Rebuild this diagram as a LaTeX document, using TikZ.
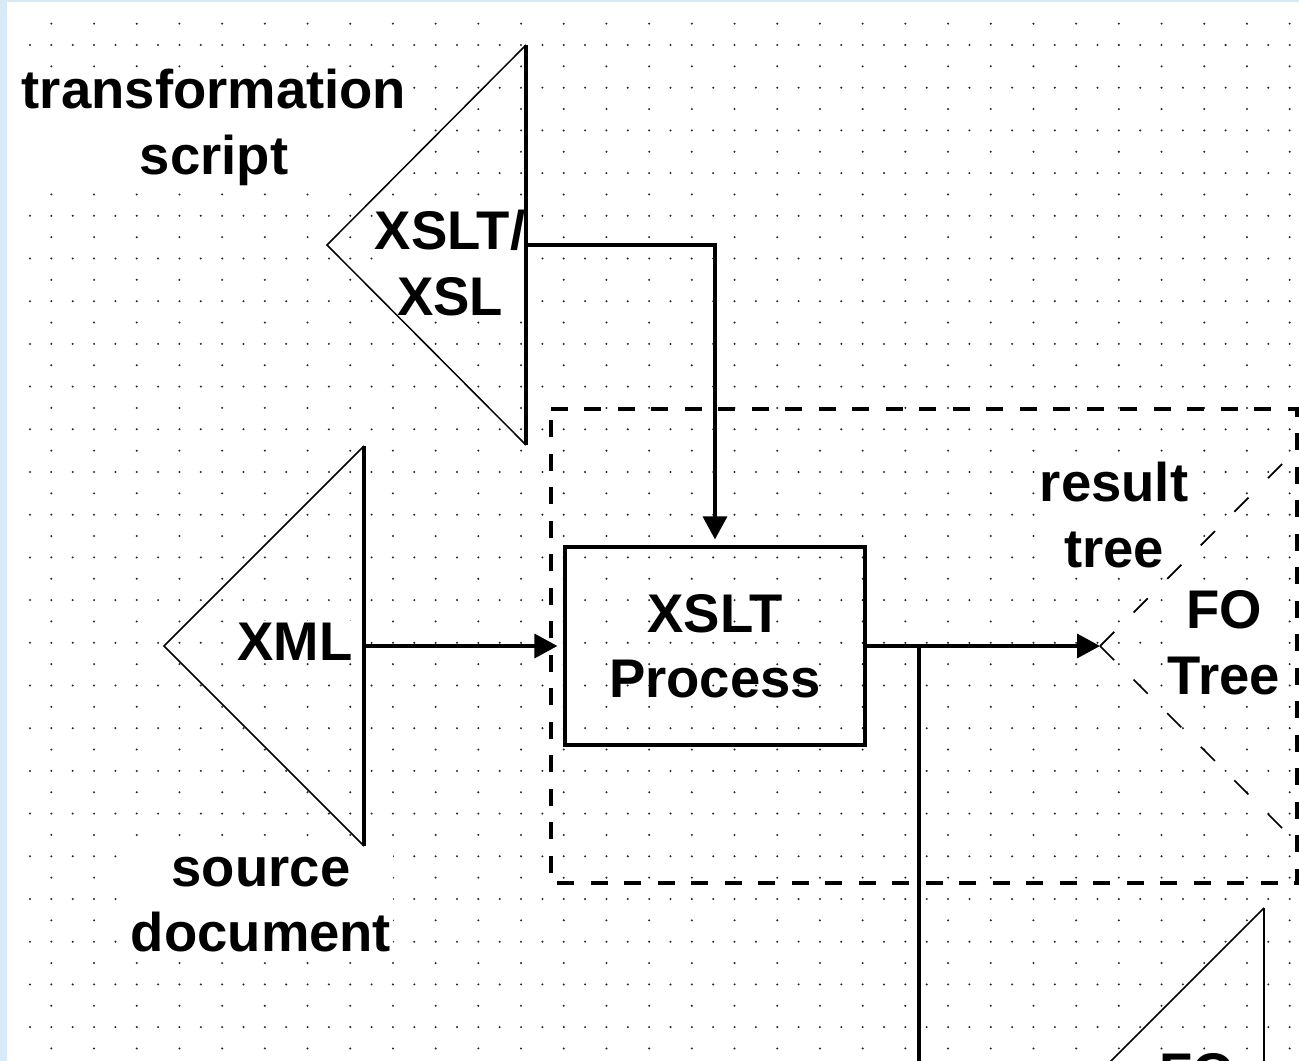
\documentclass[tikz,border=0pt]{standalone}
\usepackage{fontspec}
\setmainfont{Liberation Sans}
\usetikzlibrary{arrows.meta}

\definecolor{gridgray}{RGB}{40,40,40}
\definecolor{edgeblue}{RGB}{214,235,247}

\tikzset{
  lbl/.style={font=\fontsize{31}{37}\selectfont\bfseries, align=center, fill=white, inner sep=1pt},
  proc/.style={draw, line width=0.065cm, minimum width=6cm, minimum height=3.96cm,
    font=\fontsize{31}{37}\selectfont\bfseries, align=center},
  flow/.style={line width=0.07cm, -{Triangle[length=0.46cm,width=0.48cm]}},
  doc/.style={line width=0.03cm, line join=miter},
  docside/.style={line width=0.08cm},
  stage/.style={line width=0.07cm, dash pattern=on 0.34cm off 0.33cm},
  fotree/.style={line width=0.035cm, dash pattern=on 0.4cm off 0.55cm}
}

\begin{document}
\begin{tikzpicture}[x=0.02cm, y=-0.02cm]
  \useasboundingbox (0,0) rectangle (1299,1061);
  \clip (0,0) rectangle (1299,1061);
  % window edge
  \fill[edgeblue] (0,0) rectangle (7,1061);
  \fill[edgeblue] (0,0) rectangle (1299,2);
  % dot grid, every second row only on odd columns
  \foreach \k in {0,2,...,46}
    \foreach \j in {0,...,59}
      \fill[gridgray] (30+\j*21.35, 45+\k*21.35) circle[radius=0.65pt];
  \foreach \k in {-1,1,...,47}
    \foreach \j in {1,3,...,59}
      \fill[gridgray] (30+\j*21.35, 45+\k*21.35) circle[radius=0.65pt];

  % labels (base = last line)
  \node[lbl, anchor=base] (trans) at (214,174) {transformation\\script};
  \node[lbl, anchor=base] (xsltxt) at (450,315) {XSLT/\\XSL};
  \node[lbl, anchor=base] (xmltxt) at (295,660) {XML};
  \node[lbl, anchor=base] (srcdoc) at (261,951) {source\\document};
  \node[lbl, anchor=base] (restree) at (1114,567) {result\\tree};
  \node[lbl, anchor=base] (fotxt) at (1224,694) {FO\\Tree};
  \node[lbl, anchor=base] (fodoc) at (1197,1091) {FO};

  % XSLT/XSL script
  \coordinate (xslside) at (526,245);
  \draw[doc] (526,45) -- (327,245) -- (526,445);
  \draw[docside] (526,45) -- (526,445);
  % XML source
  \coordinate (xmlside) at (364,646);
  \draw[doc] (364,446) -- (164,646) -- (364,846);
  \draw[docside] (364,446) -- (364,846);

  % processing stage
  \draw[stage] (551,409) -- (1297,409) -- (1297,883) -- (551,883) -- cycle;

  % FO tree (result)
  \coordinate (foapex) at (1100,646);
  \draw[fotree] (foapex) -- (1300,446);
  \draw[fotree] (foapex) -- (1300,846);

  \node[proc] (xslt) at (715,646) {XSLT\\Process};

  \draw[flow, shorten >=0.12cm] (xslside) -| (xslt);
  \draw[flow, shorten >=0.12cm] (xmlside) -- (xslt);
  \draw[flow] (xslt) -- (foapex);

  % FO document below
  \coordinate (branch) at (919,646);
  \coordinate (fodrop) at (919,1075);
  \draw[line width=0.07cm] (branch) -- (fodrop);
  \draw[doc] (1264,908) -- (1064,1108);
  \draw[line width=0.04cm] (1264,908) -- (1264,1308);
\end{tikzpicture}
\end{document}
